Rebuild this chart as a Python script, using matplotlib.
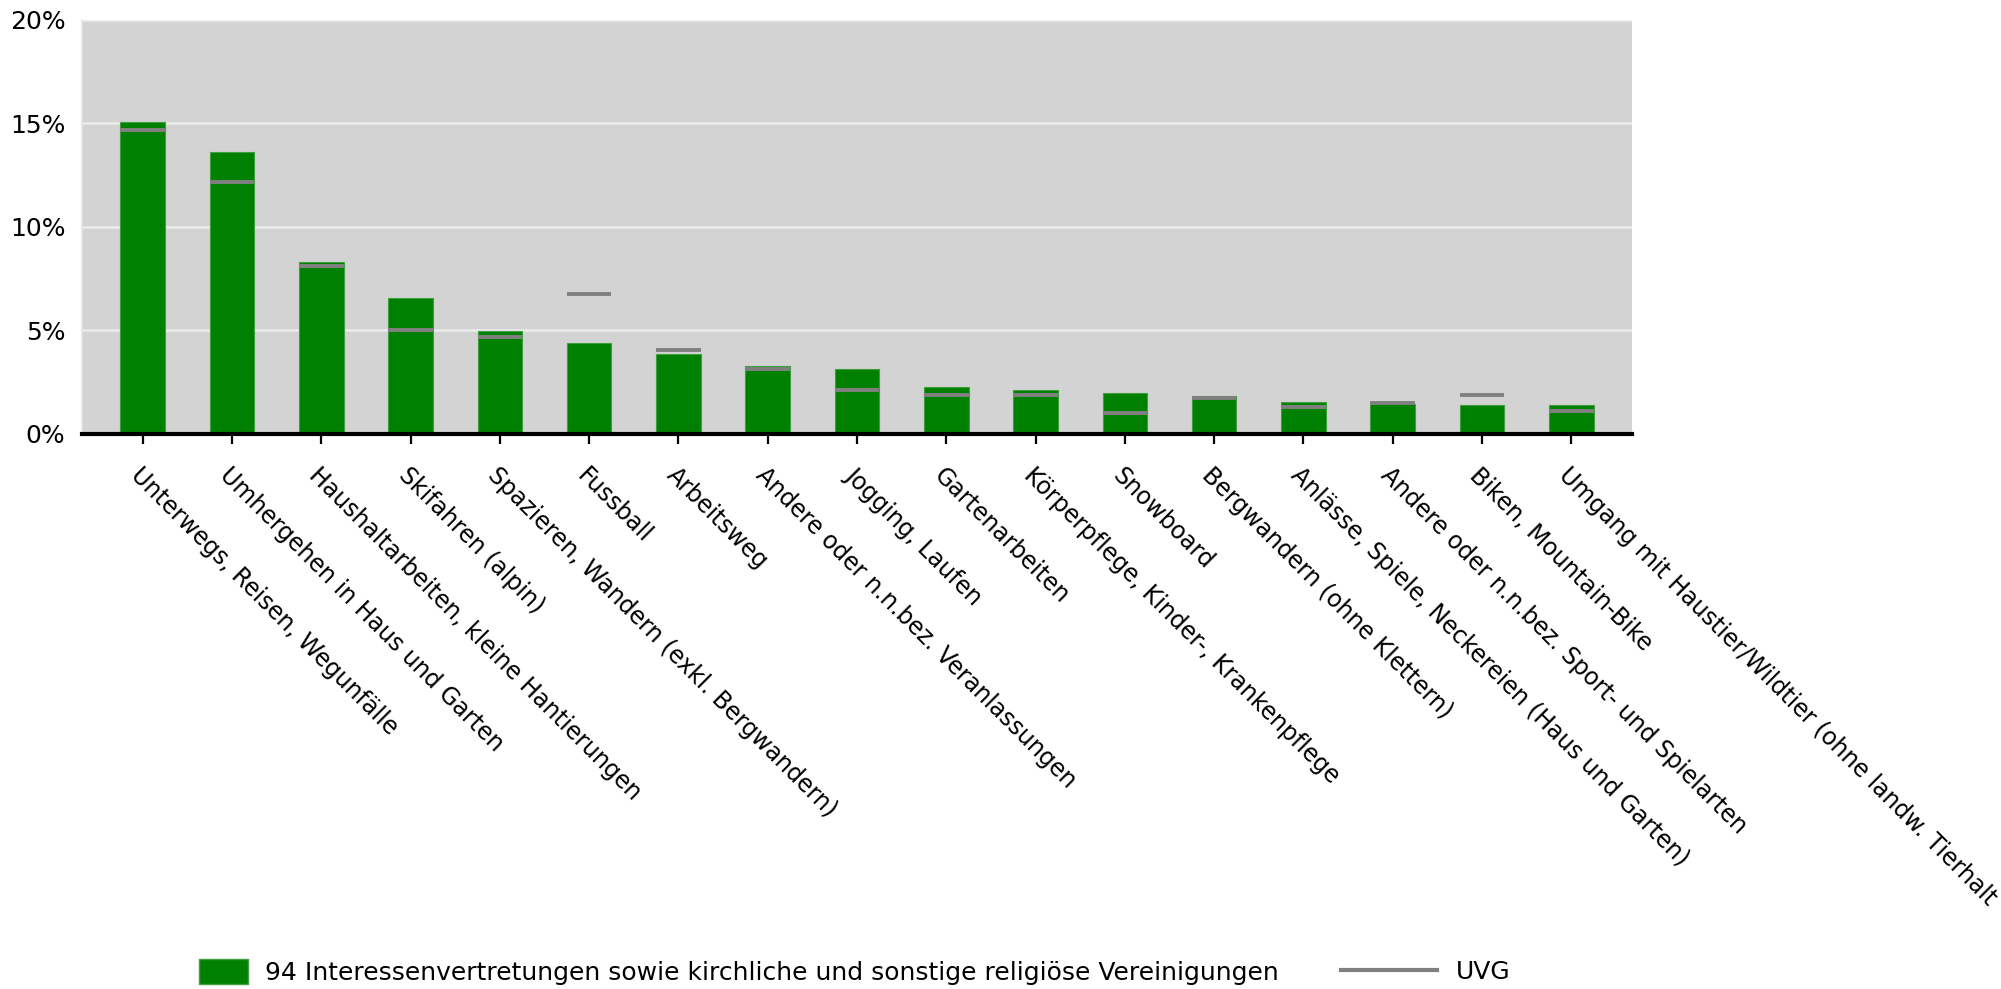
import matplotlib
matplotlib.use("Agg")
import matplotlib.pyplot as plt
import matplotlib.transforms as mtransforms
from matplotlib.patches import Patch
from matplotlib.lines import Line2D
from matplotlib.ticker import FuncFormatter
import numpy as np

# Daten (Anteile in %)
kategorien = [
    "Unterwegs, Reisen, Wegunfälle",
    "Umhergehen in Haus und Garten",
    "Haushaltarbeiten, kleine Hantierungen",
    "Skifahren (alpin)",
    "Spazieren, Wandern (exkl. Bergwandern)",
    "Fussball",
    "Arbeitsweg",
    "Andere oder n.n.bez. Veranlassungen",
    "Jogging, Laufen",
    "Gartenarbeiten",
    "Körperpflege, Kinder-, Krankenpflege",
    "Snowboard",
    "Bergwandern (ohne Klettern)",
    "Anlässe, Spiele, Neckereien (Haus und Garten)",
    "Andere oder n.n.bez. Sport- und Spielarten",
    "Biken, Mountain-Bike",
    "Umgang mit Haustier/Wildtier (ohne landw. Tierhalt",
]
branche = [15.06, 13.62, 8.29, 6.59, 4.99, 4.41, 3.85, 3.28, 3.14, 2.27,
           2.13, 1.99, 1.85, 1.54, 1.45, 1.41, 1.41]
uvg = [14.70, 12.16, 8.13, 5.01, 4.70, 6.78, 4.06, 3.12, 2.13, 1.90,
       1.87, 1.01, 1.74, 1.28, 1.52, 1.89, 1.12]
yticks = [0, 5, 10, 15, 20]

name_branche = "94 Interessenvertretungen sowie kirchliche und sonstige religiöse Vereinigungen"
name_uvg = "UVG"

plt.rcParams['font.family'] = ['DejaVu Sans']
fs = 18
fs_x = 17

fig = plt.figure(figsize=(20.01, 9.89), dpi=100)
ax = fig.add_axes([0.041, 0.5612, 0.7746, 0.4186])
ax.set_facecolor('#d3d3d3')

x = np.arange(len(kategorien))
breite = 0.5
ax.bar(x, branche, width=breite, color='#008000', edgecolor='#3f9f3f',
       linewidth=0.8, zorder=2)
ax.hlines(uvg, x - breite / 2, x + breite / 2, colors='#808080',
          linewidth=2.8, zorder=3)

ax.set_xlim(-0.68, len(kategorien) - 0.32)
ax.set_ylim(0, 20)
ax.set_yticks(yticks)
ax.yaxis.set_major_formatter(FuncFormatter(lambda v, p: f"{v:.0f}%"))
ax.grid(axis='y', color='#ececec', linewidth=1.8, zorder=1)
ax.set_axisbelow(True)

ax.set_xticks(x)
ax.set_xticklabels(kategorien, rotation=-45, ha='left', va='top',
                   rotation_mode='anchor', fontsize=fs_x)
versatz = mtransforms.ScaledTranslation(-0.22, 0, fig.dpi_scale_trans)
for lab in ax.get_xticklabels():
    lab.set_transform(lab.get_transform() + versatz)

ax.tick_params(axis='x', length=7, width=1.6, color='black', pad=14)
ax.tick_params(axis='y', length=0, pad=12, labelsize=fs)

for s in ['top', 'right']:
    ax.spines[s].set_visible(False)
ax.spines['left'].set_color('#e6e6e6')
ax.spines['left'].set_linewidth(1.2)
ax.spines['bottom'].set_color('black')
ax.spines['bottom'].set_linewidth(3)
ax.spines['bottom'].set_zorder(4)

# Legende
leg1 = fig.legend(handles=[Patch(facecolor='#008000', edgecolor='#3f9f3f', label=name_branche)],
                  loc='center left', bbox_to_anchor=(0.0995, 0.0172),
                  frameon=False, fontsize=fs, borderpad=0, borderaxespad=0,
                  handlelength=1.96, handleheight=1.15, handletextpad=0.68)
leg2 = fig.legend(handles=[Line2D([], [], color='#808080', linewidth=3, label=name_uvg)],
                  loc='center left', bbox_to_anchor=(0.670, 0.0172),
                  frameon=False, fontsize=fs, borderpad=0, borderaxespad=0,
                  handlelength=3.84, handletextpad=0.76)

fig.savefig("out.png", dpi=100)
